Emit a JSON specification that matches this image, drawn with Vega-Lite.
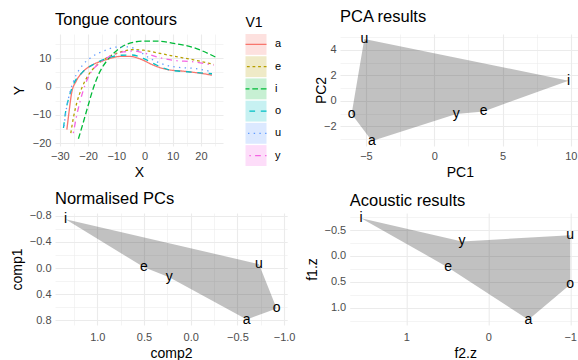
{
"$schema": "https://vega.github.io/schema/vega-lite/v6.json",
"padding": {"left": 10, "top": 8, "right": 0, "bottom": 0},
"background": "white",
"config": {
  "font": "Liberation Sans",
  "view": {"stroke": null},
  "title": {"fontSize": 16.5, "fontWeight": "normal", "anchor": "start", "frame": "group", "color": "black", "offset": 6},
  "axis": {"labelFontSize": 11, "labelColor": "#4D4D4D", "titleFontSize": 14, "titleFontWeight": "normal", "titleColor": "black", "domain": false, "ticks": false, "tickSize": 0, "labelPadding": 4, "titlePadding": 4, "gridColor": "#EBEBEB", "labelFlush": false, "labelOverlap": false}
},
"resolve": {"scale": {"x": "independent", "y": "independent", "color": "independent", "strokeDash": "independent"}},
"spacing": 12,
"vconcat": [
 {"spacing": 33,
  "resolve": {"scale": {"x": "independent", "y": "independent", "color": "independent", "strokeDash": "independent"}},
  "hconcat": [
  {"bounds": "flush", "spacing": 22.5,
   "resolve": {"scale": {"x": "independent", "y": "independent", "color": "independent", "strokeDash": "independent", "fill": "independent", "stroke": "independent"}},
   "hconcat": [
    {"title": {"text": "Tongue contours"},
     "width": 168, "height": 112,
     "data": {"values": [
      {"V1":"a","X":-27.5,"Y":-15.2},{"V1":"a","X":-26.7,"Y":-8.7},{"V1":"a","X":-25.8,"Y":-2.2},{"V1":"a","X":-24.2,"Y":1.9},{"V1":"a","X":-21.6,"Y":5.4},{"V1":"a","X":-18.1,"Y":7.8},{"V1":"a","X":-13.4,"Y":9.5},{"V1":"a","X":-8.6,"Y":10.6},{"V1":"a","X":-5.1,"Y":10.6},{"V1":"a","X":-1.5,"Y":9.7},{"V1":"a","X":3.2,"Y":7.5},{"V1":"a","X":7.9,"Y":6.0},{"V1":"a","X":13.8,"Y":5.4},{"V1":"a","X":19.7,"Y":4.7},{"V1":"a","X":23.9,"Y":4.0},
      {"V1":"e","X":-26.1,"Y":-16.4},{"V1":"e","X":-25.2,"Y":-11.1},{"V1":"e","X":-24.0,"Y":-5.8},{"V1":"e","X":-22.2,"Y":-0.5},{"V1":"e","X":-19.9,"Y":4.0},{"V1":"e","X":-16.9,"Y":7.5},{"V1":"e","X":-13.4,"Y":10.1},{"V1":"e","X":-8.6,"Y":12.1},{"V1":"e","X":-3.9,"Y":13.0},{"V1":"e","X":-0.4,"Y":12.8},{"V1":"e","X":4.4,"Y":11.9},{"V1":"e","X":10.3,"Y":10.7},{"V1":"e","X":17.4,"Y":9.4},{"V1":"e","X":24.5,"Y":7.8},
      {"V1":"i","X":-23.4,"Y":-18.4},{"V1":"i","X":-21.9,"Y":-13.4},{"V1":"i","X":-20.2,"Y":-7.5},{"V1":"i","X":-18.3,"Y":-1.1},{"V1":"i","X":-16.3,"Y":4.2},{"V1":"i","X":-13.4,"Y":9.0},{"V1":"i","X":-9.8,"Y":12.7},{"V1":"i","X":-5.7,"Y":15.1},{"V1":"i","X":-0.4,"Y":16.0},{"V1":"i","X":4.4,"Y":16.0},{"V1":"i","X":10.3,"Y":15.2},{"V1":"i","X":17.4,"Y":13.7},{"V1":"i","X":25.1,"Y":10.4},
      {"V1":"o","X":-28.7,"Y":-14.6},{"V1":"o","X":-27.9,"Y":-8.7},{"V1":"o","X":-26.8,"Y":-4.0},{"V1":"o","X":-25.2,"Y":0.7},{"V1":"o","X":-22.2,"Y":4.8},{"V1":"o","X":-18.1,"Y":7.8},{"V1":"o","X":-13.4,"Y":9.9},{"V1":"o","X":-8.6,"Y":11.0},{"V1":"o","X":-4.5,"Y":11.1},{"V1":"o","X":-0.4,"Y":9.9},{"V1":"o","X":4.4,"Y":7.5},{"V1":"o","X":9.1,"Y":5.8},{"V1":"o","X":15.0,"Y":5.2},{"V1":"o","X":23.9,"Y":4.5},
      {"V1":"u","X":-28.5,"Y":-14.0},{"V1":"u","X":-27.8,"Y":-8.7},{"V1":"u","X":-26.6,"Y":-2.8},{"V1":"u","X":-24.9,"Y":2.5},{"V1":"u","X":-22.2,"Y":7.2},{"V1":"u","X":-18.7,"Y":10.4},{"V1":"u","X":-14.5,"Y":12.5},{"V1":"u","X":-9.8,"Y":13.9},{"V1":"u","X":-5.7,"Y":14.0},{"V1":"u","X":-2.1,"Y":12.5},{"V1":"u","X":2.0,"Y":9.9},{"V1":"u","X":6.7,"Y":7.8},{"V1":"u","X":11.5,"Y":6.8},{"V1":"u","X":17.4,"Y":6.4},{"V1":"u","X":23.9,"Y":5.2},
      {"V1":"y","X":-25.2,"Y":-16.4},{"V1":"y","X":-24.2,"Y":-11.1},{"V1":"y","X":-22.8,"Y":-5.2},{"V1":"y","X":-21.0,"Y":0.7},{"V1":"y","X":-18.7,"Y":5.4},{"V1":"y","X":-15.7,"Y":8.4},{"V1":"y","X":-12.2,"Y":10.7},{"V1":"y","X":-7.4,"Y":12.2},{"V1":"y","X":-3.9,"Y":12.5},{"V1":"y","X":-0.4,"Y":11.9},{"V1":"y","X":4.4,"Y":10.4},{"V1":"y","X":10.3,"Y":9.2},{"V1":"y","X":17.4,"Y":8.7},{"V1":"y","X":24.5,"Y":7.5}
     ]},
     "mark": {"type": "line", "interpolate": "monotone", "strokeWidth": 1.3},
     "encoding": {
      "x": {"field": "X", "type": "quantitative", "scale": {"domain": [-31.7, 27.8], "nice": false, "zero": false},
            "axis": {"title": "X", "values": [-30,-25,-20,-15,-10,-5,0,5,10,15,20,25], "labelExpr": "datum.value % 10 === 0 ? datum.label : ''", "gridWidth": {"condition": {"test": "datum.value % 10 === 0", "value": 1.1}, "value": 0.55}}},
      "y": {"field": "Y", "type": "quantitative", "scale": {"domain": [-20.95, 18.5], "nice": false, "zero": false},
            "axis": {"title": "Y", "titlePadding": 6.3, "values": [-20,-15,-10,-5,0,5,10,15], "labelExpr": "datum.value % 10 === 0 ? datum.label : ''", "gridWidth": {"condition": {"test": "datum.value % 10 === 0", "value": 1.1}, "value": 0.55}}},
      "color": {"field": "V1", "type": "nominal", "scale": {"domain": ["a","e","i","o","u","y"], "range": ["#F8766D","#B79F00","#00BA38","#00BFC4","#619CFF","#F564E3"]}, "legend": null},
      "strokeDash": {"field": "V1", "type": "nominal", "scale": {"domain": ["a","e","i","o","u","y"], "range": [[1,0],[2.8,2.8],[5.7,2.8],[5.7,5.7],[1.4,4.3],[1.4,4.3,5.7,4.3]]}, "legend": null}
     }
    },
    {"title": {"text": "V1", "fontSize": 14, "offset": 4},
     "width": 21, "height": 132,
     "data": {"values": [{"V1":"a"},{"V1":"e"},{"V1":"i"},{"V1":"o"},{"V1":"u"},{"V1":"y"}]},
     "encoding": {"y": {"field": "V1", "type": "nominal", "scale": {"domain": ["a","e","i","o","u","y"], "paddingInner": 0.06, "paddingOuter": 0}, "axis": {"orient": "right", "title": null, "grid": false, "labelColor": "black", "labelPadding": 8, "labelFontSize": 11}}},
     "layer": [
      {"mark": {"type": "rect", "opacity": 0.22}, "encoding": {"fill": {"field": "V1", "type": "nominal", "scale": {"domain": ["a","e","i","o","u","y"], "range": ["#F8766D","#B79F00","#00BA38","#00BFC4","#619CFF","#F564E3"]}, "legend": null}}},
      {"mark": {"type": "rule", "strokeWidth": 1.3}, "encoding": {
        "stroke": {"field": "V1", "type": "nominal", "scale": {"domain": ["a","e","i","o","u","y"], "range": ["#F8766D","#B79F00","#00BA38","#00BFC4","#619CFF","#F564E3"]}, "legend": null},
        "strokeDash": {"field": "V1", "type": "nominal", "scale": {"domain": ["a","e","i","o","u","y"], "range": [[1,0],[2.8,2.8],[5.7,2.8],[5.7,5.7],[1.4,4.3],[1.4,4.3,5.7,4.3]]}, "legend": null}}}
     ]
    }
   ]
  },
  {"title": {"text": "PCA results"},
   "width": 239.7, "height": 112,
   "data": {"values": [
     {"vowel":"u","PC1":-5.12,"PC2":4.84,"ord":1},
     {"vowel":"i","PC1":9.83,"PC2":1.58,"ord":2},
     {"vowel":"e","PC1":3.61,"PC2":-0.84,"ord":3},
     {"vowel":"y","PC1":1.61,"PC2":-1.04,"ord":4},
     {"vowel":"a","PC1":-4.56,"PC2":-3.15,"ord":5},
     {"vowel":"o","PC1":-6.05,"PC2":-1.04,"ord":6}
   ]},
   "encoding": {
     "x": {"field": "PC1", "type": "quantitative", "scale": {"domain": [-6.9, 10.65], "nice": false, "zero": false},
           "axis": {"title": "PC1", "values": [-5,-2.5,0,2.5,5,7.5,10], "labelExpr": "datum.value % 5 === 0 ? datum.label : ''", "gridWidth": {"condition": {"test": "datum.value % 5 === 0", "value": 1.1}, "value": 0.55}}},
     "y": {"field": "PC2", "type": "quantitative", "scale": {"domain": [-3.55, 5.24], "nice": false, "zero": false},
           "axis": {"title": "PC2", "titlePadding": -5, "values": [-3,-2,-1,0,1,2,3,4,5], "labelExpr": "datum.value % 2 === 0 ? datum.label : ''", "gridWidth": {"condition": {"test": "datum.value % 2 === 0", "value": 1.1}, "value": 0.55}}}
   },
   "layer": [
     {"mark": {"type": "line", "interpolate": "linear-closed", "fill": "#333333", "fillOpacity": 0.3, "strokeOpacity": 0}, "encoding": {"order": {"field": "ord", "type": "quantitative"}}},
     {"mark": {"type": "text", "fontSize": 14, "color": "black"}, "encoding": {"text": {"field": "vowel", "type": "nominal"}}}
   ]
  }
 ]},
 {"bounds": "flush", "spacing": 61.7,
  "resolve": {"scale": {"x": "independent", "y": "independent"}},
  "hconcat": [
  {"title": {"text": "Normalised PCs", "offset": 2},
   "width": 232.2, "height": 112,
   "data": {"values": [
     {"vowel":"i","comp2":1.34,"comp1":-0.75,"ord":1},
     {"vowel":"u","comp2":-0.73,"comp1":-0.06,"ord":2},
     {"vowel":"o","comp2":-0.92,"comp1":0.62,"ord":3},
     {"vowel":"a","comp2":-0.6,"comp1":0.79,"ord":4},
     {"vowel":"y","comp2":0.23,"comp1":0.14,"ord":5},
     {"vowel":"e","comp2":0.5,"comp1":-0.01,"ord":6}
   ]},
   "encoding": {
     "x": {"field": "comp2", "type": "quantitative", "scale": {"domain": [-1.033, 1.453], "reverse": true, "nice": false, "zero": false},
           "axis": {"title": "comp2", "labelPadding": 6, "format": ".1f", "values": [1.25,1,0.75,0.5,0.25,0,-0.25,-0.5,-0.75,-1], "labelExpr": "abs(datum.value*2 - round(datum.value*2)) < 0.001 ? datum.label : ''", "gridWidth": {"condition": {"test": "abs(datum.value*2 - round(datum.value*2)) < 0.001", "value": 1.1}, "value": 0.55}}},
     "y": {"field": "comp1", "type": "quantitative", "scale": {"domain": [-0.844, 0.874], "reverse": true, "nice": false, "zero": false},
           "axis": {"title": "comp1", "titlePadding": 4.8, "format": ".1f", "values": [-0.8,-0.6,-0.4,-0.2,0,0.2,0.4,0.6,0.8], "labelExpr": "abs(datum.value/0.4 - round(datum.value/0.4)) < 0.001 ? datum.label : ''", "gridWidth": {"condition": {"test": "abs(datum.value/0.4 - round(datum.value/0.4)) < 0.001", "value": 1.1}, "value": 0.55}}}
   },
   "layer": [
     {"mark": {"type": "line", "interpolate": "linear-closed", "fill": "#333333", "fillOpacity": 0.3, "strokeOpacity": 0}, "encoding": {"order": {"field": "ord", "type": "quantitative"}}},
     {"mark": {"type": "text", "fontSize": 14, "color": "black"}, "encoding": {"text": {"field": "vowel", "type": "nominal"}}}
   ]
  },
  {"title": {"text": "Acoustic results", "offset": 2},
   "width": 231, "height": 112,
   "data": {"values": [
     {"vowel":"i","f2.z":1.55,"f1.z":-0.73,"ord":1},
     {"vowel":"y","f2.z":0.32,"f1.z":-0.28,"ord":2},
     {"vowel":"u","f2.z":-1.0,"f1.z":-0.40,"ord":3},
     {"vowel":"o","f2.z":-1.0,"f1.z":0.55,"ord":4},
     {"vowel":"a","f2.z":-0.49,"f1.z":1.23,"ord":5},
     {"vowel":"e","f2.z":0.49,"f1.z":0.22,"ord":6}
   ]},
   "encoding": {
     "x": {"field": "f2\\.z", "type": "quantitative", "scale": {"domain": [-1.128, 1.69], "reverse": true, "nice": false, "zero": false},
           "axis": {"title": "f2.z", "labelPadding": 6, "format": "d", "values": [1.5,1,0.5,0,-0.5,-1], "labelExpr": "abs(datum.value - round(datum.value)) < 0.001 ? datum.label : ''", "gridWidth": {"condition": {"test": "abs(datum.value - round(datum.value)) < 0.001", "value": 1.1}, "value": 0.55}}},
     "y": {"field": "f1\\.z", "type": "quantitative", "scale": {"domain": [-0.83, 1.332], "reverse": true, "nice": false, "zero": false},
           "axis": {"title": "f1.z", "titlePadding": 4, "format": ".1f", "values": [-0.75,-0.5,-0.25,0,0.25,0.5,0.75,1,1.25], "labelExpr": "abs(datum.value*2 - round(datum.value*2)) < 0.001 ? datum.label : ''", "gridWidth": {"condition": {"test": "abs(datum.value*2 - round(datum.value*2)) < 0.001", "value": 1.1}, "value": 0.55}}}
   },
   "layer": [
     {"mark": {"type": "line", "interpolate": "linear-closed", "fill": "#333333", "fillOpacity": 0.3, "strokeOpacity": 0}, "encoding": {"order": {"field": "ord", "type": "quantitative"}}},
     {"mark": {"type": "text", "fontSize": 14, "color": "black"}, "encoding": {"text": {"field": "vowel", "type": "nominal"}}}
   ]
  }
 ]}
]
}
